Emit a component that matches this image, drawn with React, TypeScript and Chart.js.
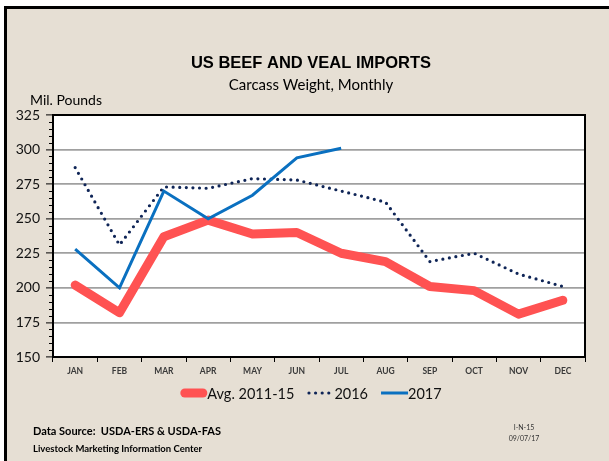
import React, { useEffect, useRef } from 'react';
import { Chart, registerables } from 'chart.js';

Chart.register(...registerables);

const months = ['JAN', 'FEB', 'MAR', 'APR', 'MAY', 'JUN', 'JUL', 'AUG', 'SEP', 'OCT', 'NOV', 'DEC'];
const avg2011to15 = [202, 182, 237, 249, 239, 240, 225, 219, 201, 198, 181, 191];
const y2016 = [287, 231, 273, 272, 279, 278, 270, 262, 219, 225, 210, 201];
const y2017 = [228, 200, 270, 250, 267, 294, 301];
const seriesNames = ['Avg. 2011-15', '2016', '2017'];
const yMin = 150;
const yMax = 325;
const yStep = 25;
const yMinorStep = 5;

const titleText = 'US BEEF AND VEAL IMPORTS';
const subtitleText = 'Carcass Weight, Monthly';
const yUnitText = 'Mil. Pounds';
const sourceText = 'Data Source:  USDA-ERS & USDA-FAS';
const centerText = 'Livestock Marketing Information Center';
const codeText = 'I-N-15';
const dateText = '09/07/17';

const W = 609;
const H = 461;

const decorPlugin = {
  id: 'decor',
  beforeDraw(chart: any) {
    const { ctx, chartArea } = chart;
    ctx.save();
    ctx.fillStyle = '#ffffff';
    ctx.fillRect(0, 0, W, H);
    ctx.fillStyle = '#e6dfd4';
    ctx.fillRect(4, 6, W - 4, H - 6);
    ctx.fillStyle = '#000000';
    ctx.fillRect(4, 6, W - 4, 3);
    ctx.fillRect(4, 6, 3, H - 6);
    ctx.fillStyle = '#ffffff';
    ctx.fillRect(chartArea.left, chartArea.top, chartArea.right - chartArea.left, chartArea.bottom - chartArea.top);
    ctx.restore();
  },
  afterDatasetsDraw(chart: any) {
    const { ctx, chartArea } = chart;
    const ys = chart.scales.y;
    ctx.save();
    ctx.strokeStyle = '#000000';
    ctx.lineWidth = 1;
    for (let v = yMin; v <= yMax; v += yMinorStep) {
      if (v % yStep === 0) continue;
      const py = Math.round(ys.getPixelForValue(v)) + 0.5;
      ctx.beginPath();
      ctx.moveTo(chartArea.left - 4, py);
      ctx.lineTo(chartArea.left, py);
      ctx.stroke();
    }
    ctx.lineWidth = 2;
    ctx.strokeRect(chartArea.left, chartArea.top, chartArea.right - chartArea.left, chartArea.bottom - chartArea.top);
    ctx.restore();
  },
  afterDraw(chart: any) {
    const { ctx } = chart;
    ctx.save();
    ctx.fillStyle = '#000000';
    ctx.textBaseline = 'middle';
    ctx.textAlign = 'center';
    ctx.font = 'bold 16.5px "Liberation Sans", Arial, sans-serif';
    ctx.fillText(titleText, 311, 63);
    ctx.font = '15px Lato, sans-serif';
    ctx.fillText(subtitleText, 311, 85);
    ctx.textAlign = 'left';
    ctx.font = '14px Lato, sans-serif';
    ctx.fillText(yUnitText, 30, 100);

    // legend
    ctx.font = '14.5px Lato, sans-serif';
    const sampleLen = 27;
    const itemGap = 13;
    const dsets = chart.data.datasets;
    const widths = dsets.map((d: any) => sampleLen + ctx.measureText(d.label).width);
    const total = widths.reduce((a: number, b: number) => a + b, 0) + itemGap * (dsets.length - 1);
    let x = 311 - total / 2;
    const ly = 393;
    dsets.forEach((d: any, i: number) => {
      ctx.save();
      ctx.strokeStyle = d.borderColor;
      ctx.lineWidth = d.borderWidth;
      ctx.lineCap = d.borderCapStyle || 'butt';
      ctx.setLineDash(d.borderDash || []);
      ctx.beginPath();
      const inset = d.borderCapStyle === 'round' ? d.borderWidth / 2 : 0;
      ctx.moveTo(x + inset, ly);
      ctx.lineTo(x + sampleLen - inset, ly);
      ctx.stroke();
      ctx.restore();
      ctx.fillStyle = '#111111';
      ctx.fillText(d.label, x + sampleLen, ly + 1);
      x += widths[i] + itemGap;
    });

    ctx.fillStyle = '#000000';
    ctx.font = 'bold 11px Lato, sans-serif';
    ctx.fillText(sourceText, 33, 431);
    ctx.font = 'bold 9.5px Lato, sans-serif';
    ctx.fillText(centerText, 33, 449);
    ctx.textAlign = 'center';
    ctx.font = '7px Lato, sans-serif';
    ctx.fillStyle = '#333333';
    ctx.fillText(codeText, 524, 428);
    ctx.fillText(dateText, 524, 439);
    ctx.restore();
  },
};

export default function App() {
  const ref = useRef<HTMLCanvasElement | null>(null);
  useEffect(() => {
    document.body.style.margin = '0';
    const canvas = ref.current!;
    const chart = new Chart(canvas, {
      type: 'line',
      data: {
        labels: months,
        datasets: [
          {
            label: seriesNames[0],
            data: avg2011to15,
            borderColor: '#ff5252',
            borderWidth: 9,
            borderCapStyle: 'round',
            borderJoinStyle: 'round',
            pointRadius: 0,
            order: 3,
          },
          {
            label: seriesNames[1],
            data: y2016,
            borderColor: '#0f2557',
            borderWidth: 3.2,
            borderDash: [0, 6.6],
            borderCapStyle: 'round',
            pointRadius: 0,
            order: 2,
          },
          {
            label: seriesNames[2],
            data: y2017,
            borderColor: '#0a70c0',
            borderWidth: 3,
            borderJoinStyle: 'miter',
            pointRadius: 0,
            order: 1,
          },
        ],
      },
      options: {
        responsive: false,
        animation: false,
        layout: { padding: { left: 0, right: 24, top: 115, bottom: 0 } },
        plugins: {
          legend: { display: false },
          title: { display: false },
          tooltip: { enabled: false },
        },
        scales: {
          x: {
            offset: true,
            border: { display: false },
            grid: {
              offset: true,
              drawOnChartArea: false,
              drawTicks: true,
              tickLength: 5,
              tickColor: '#000000',
              tickWidth: 1,
            },
            ticks: {
              color: '#3a3a3a',
              font: { family: 'Lato', size: 8.5, weight: 'bold' },
              padding: 4,
              maxRotation: 0,
              autoSkip: false,
            },
            afterFit: (s: any) => {
              s.height = 104;
            },
          },
          y: {
            min: yMin,
            max: yMax,
            border: { display: false },
            grid: {
              color: (c: any) => (c.tick && (c.tick.value === yMin || c.tick.value === yMax) ? 'rgba(0,0,0,0)' : '#a0a0a0'),
              lineWidth: 1.8,
              tickLength: 7,
              tickColor: '#000000',
              tickWidth: 1,
            },
            ticks: {
              stepSize: yStep,
              color: '#111111',
              font: { family: 'Lato', size: 14 },
              padding: 6,
            },
            afterFit: (s: any) => {
              s.width = 53;
            },
          },
        },
      },
      plugins: [decorPlugin],
    } as any);
    return () => chart.destroy();
  }, []);
  return (
    <div style={{ position: 'fixed', left: 0, top: 0, width: W, height: H }}>
      <canvas ref={ref} width={W} height={H} style={{ width: W, height: H, display: 'block' }} />
    </div>
  );
}
